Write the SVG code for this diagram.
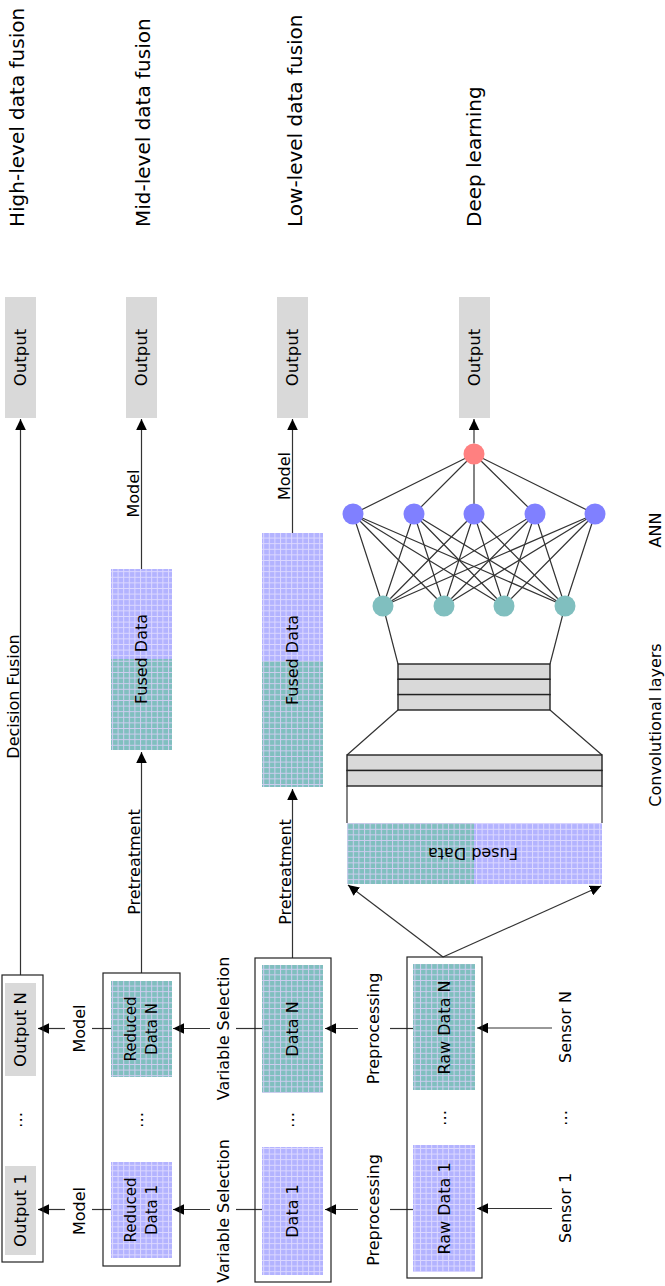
<svg xmlns="http://www.w3.org/2000/svg" width="665" height="1286" viewBox="0 0 665 1286">
  <style>
    text { font-family: "DejaVu Sans", "Liberation Sans", sans-serif; fill: #000; }
    .title { font-size: 20px; }
    .lbl { font-size: 16px; }
    .out { font-size: 16.5px; }
    .small { font-size: 15px; }
    .gray { fill: #d9d9d9; stroke: none; }
    .frame { fill: none; stroke: #222; stroke-width: 1.2; }
    .edge { fill: none; stroke: #333; stroke-width: 1.2; }
    .arrow { fill: none; stroke: #333; stroke-width: 1.2; marker-end: url(#tip); }
    .layer { fill: #d9d9d9; stroke: #222; stroke-width: 1.4; }
    .nP { fill: #8080ff; }
    .nT { fill: #80bfbf; }
    .nR { fill: #ff8080; }
  </style>
  <defs>
    <marker id="tip" markerUnits="userSpaceOnUse" markerWidth="11" markerHeight="11" viewBox="0 0 11 11" refX="11" refY="5.5" orient="auto">
      <path d="M11 5.5 L0 0.2 L0 10.8 Z" fill="#000"/>
    </marker>
    <pattern id="gridP" patternUnits="userSpaceOnUse" width="5.6" height="5.6">
      <rect width="5.6" height="5.6" fill="#b3b3ff"/>
      <path d="M0 0.5H5.6M0.5 0V5.6" stroke="#dcd8ff" stroke-width="1"/>
    </pattern>
    <pattern id="gridT" patternUnits="userSpaceOnUse" width="5.6" height="5.6">
      <rect width="5.6" height="5.6" fill="#80bfbf"/>
      <path d="M0 0.5H5.6M0.5 0V5.6" stroke="#cfcdf0" stroke-width="1"/>
    </pattern>
  </defs>

  <!-- column titles -->
  <g id="titles">
    <text class="title" transform="translate(17,227) rotate(-90)" dominant-baseline="central">High-level data fusion</text>
    <text class="title" transform="translate(143,227) rotate(-90)" dominant-baseline="central">Mid-level data fusion</text>
    <text class="title" transform="translate(295,227) rotate(-90)" dominant-baseline="central">Low-level data fusion</text>
    <text class="title" transform="translate(474,227) rotate(-90)" dominant-baseline="central">Deep learning</text>
  </g>

  <!-- connectors -->
  <g id="connectors">
    <!-- vertical flows -->
    <line class="arrow" x1="20.5" y1="975" x2="20.5" y2="419"/>
    <line class="arrow" x1="141.5" y1="569" x2="141.5" y2="419"/>
    <line class="arrow" x1="141.5" y1="973" x2="141.5" y2="752"/>
    <line class="arrow" x1="292.5" y1="533" x2="292.5" y2="419"/>
    <line class="arrow" x1="292.5" y1="958" x2="292.5" y2="789"/>
    <line class="arrow" x1="474" y1="443.5" x2="474" y2="419"/>
    <!-- horizontal flows, split around their labels -->
    <line class="edge" x1="111" y1="1028.5" x2="92" y2="1028.5"/>
    <line class="arrow" x1="65" y1="1028.5" x2="38" y2="1028.5"/>
    <line class="edge" x1="111" y1="1209.5" x2="92" y2="1209.5"/>
    <line class="arrow" x1="65" y1="1209.5" x2="38" y2="1209.5"/>
    <line class="edge" x1="262" y1="1028.5" x2="236" y2="1028.5"/>
    <line class="arrow" x1="210" y1="1028.5" x2="173" y2="1028.5"/>
    <line class="edge" x1="262" y1="1209.5" x2="236" y2="1209.5"/>
    <line class="arrow" x1="210" y1="1209.5" x2="173" y2="1209.5"/>
    <line class="edge" x1="413" y1="1028.5" x2="390" y2="1028.5"/>
    <line class="arrow" x1="358" y1="1028.5" x2="325" y2="1028.5"/>
    <line class="edge" x1="413" y1="1209.5" x2="390" y2="1209.5"/>
    <line class="arrow" x1="358" y1="1209.5" x2="325" y2="1209.5"/>
    <line class="arrow" x1="552" y1="1028" x2="477" y2="1028"/>
    <line class="arrow" x1="552" y1="1208.5" x2="477" y2="1208.5"/>
    <!-- raw data into the convolutional input -->
    <line class="arrow" x1="443" y1="957" x2="348" y2="885"/>
    <line class="arrow" x1="443" y1="957" x2="601" y2="886"/>
    <!-- convolutional funnel -->
    <path class="edge" d="M347 823V786M602 823V786"/>
    <path class="edge" d="M347 755L398 710M602 755L550 710"/>
    <path class="edge" d="M398 664L383 606M550 664L565 606"/>
    <!-- ANN: hidden to output -->
    <path class="edge" d="M353 514L474 454M414 514L474 454M474 514L474 454M535 514L474 454M595 514L474 454"/>
    <!-- ANN: input to hidden -->
    <path class="edge" d="M383 606L353 514M383 606L414 514M383 606L474 514M383 606L535 514M383 606L595 514"/>
    <path class="edge" d="M444 606L353 514M444 606L414 514M444 606L474 514M444 606L535 514M444 606L595 514"/>
    <path class="edge" d="M504 606L353 514M504 606L414 514M504 606L474 514M504 606L535 514M504 606L595 514"/>
    <path class="edge" d="M565 606L353 514M565 606L414 514M565 606L474 514M565 606L535 514M565 606L595 514"/>
  </g>

  <!-- connector labels -->
  <g id="edge-labels" class="lbl">
    <text transform="translate(13,696.5) rotate(-90)" text-anchor="middle" dominant-baseline="central">Decision Fusion</text>
    <text transform="translate(133,493.5) rotate(-90)" text-anchor="middle" dominant-baseline="central">Model</text>
    <text transform="translate(284.5,476) rotate(-90)" text-anchor="middle" dominant-baseline="central">Model</text>
    <text transform="translate(134,862) rotate(-90)" text-anchor="middle" dominant-baseline="central">Pretreatment</text>
    <text transform="translate(285,872) rotate(-90)" text-anchor="middle" dominant-baseline="central">Pretreatment</text>
    <text transform="translate(79,1028.5) rotate(-90)" text-anchor="middle" dominant-baseline="central">Model</text>
    <text transform="translate(79,1211) rotate(-90)" text-anchor="middle" dominant-baseline="central">Model</text>
    <text transform="translate(223,1028.5) rotate(-90)" text-anchor="middle" dominant-baseline="central">Variable Selection</text>
    <text transform="translate(223,1211) rotate(-90)" text-anchor="middle" dominant-baseline="central">Variable Selection</text>
    <text transform="translate(373,1028.5) rotate(-90)" text-anchor="middle" dominant-baseline="central">Preprocessing</text>
    <text transform="translate(373,1210) rotate(-90)" text-anchor="middle" dominant-baseline="central">Preprocessing</text>
  </g>

  <!-- high-level fusion -->
  <g id="hl-output">
    <rect class="gray" x="5" y="297" width="31" height="121"/>
    <text class="out" transform="translate(20.5,357.5) rotate(-90)" text-anchor="middle" dominant-baseline="central">Output</text>
  </g>
  <g id="hl-outputs">
    <rect class="frame" x="2" y="975" width="41" height="287"/>
    <rect class="gray" x="5" y="983" width="31" height="93"/>
    <text class="out" transform="translate(20.5,1029.5) rotate(-90)" text-anchor="middle" dominant-baseline="central">Output N</text>
    <text class="lbl" transform="translate(20.5,1120) rotate(-90)" text-anchor="middle" dominant-baseline="central">⋯</text>
    <rect class="gray" x="5" y="1166" width="31" height="89"/>
    <text class="out" transform="translate(20.5,1210.5) rotate(-90)" text-anchor="middle" dominant-baseline="central">Output 1</text>
  </g>

  <!-- mid-level fusion -->
  <g id="ml-output">
    <rect class="gray" x="126" y="297" width="31" height="121"/>
    <text class="out" transform="translate(141.5,357.5) rotate(-90)" text-anchor="middle" dominant-baseline="central">Output</text>
  </g>
  <g id="ml-fused">
    <rect x="111" y="569" width="61" height="90" fill="url(#gridP)"/>
    <rect x="111" y="659" width="61" height="91" fill="url(#gridT)"/>
    <text class="lbl" transform="translate(141.5,659) rotate(-90)" text-anchor="middle" dominant-baseline="central">Fused Data</text>
  </g>
  <g id="ml-reduced">
    <rect class="frame" x="103" y="973" width="77" height="293"/>
    <rect x="111" y="981" width="61" height="96" fill="url(#gridT)"/>
    <text class="small" transform="translate(130.5,1029) rotate(-90)" text-anchor="middle" dominant-baseline="central">Reduced</text>
    <text class="small" transform="translate(152,1029) rotate(-90)" text-anchor="middle" dominant-baseline="central">Data N</text>
    <text class="lbl" transform="translate(141.5,1120) rotate(-90)" text-anchor="middle" dominant-baseline="central">⋯</text>
    <rect x="111" y="1162" width="61" height="96" fill="url(#gridP)"/>
    <text class="small" transform="translate(130.5,1210) rotate(-90)" text-anchor="middle" dominant-baseline="central">Reduced</text>
    <text class="small" transform="translate(152,1210) rotate(-90)" text-anchor="middle" dominant-baseline="central">Data 1</text>
  </g>

  <!-- low-level fusion -->
  <g id="ll-output">
    <rect class="gray" x="277" y="297" width="31" height="121"/>
    <text class="out" transform="translate(292.5,357.5) rotate(-90)" text-anchor="middle" dominant-baseline="central">Output</text>
  </g>
  <g id="ll-fused">
    <rect x="262" y="533" width="61" height="128" fill="url(#gridP)"/>
    <rect x="262" y="661" width="61" height="126" fill="url(#gridT)"/>
    <text class="lbl" transform="translate(292.5,660) rotate(-90)" text-anchor="middle" dominant-baseline="central">Fused Data</text>
  </g>
  <g id="ll-data">
    <rect class="frame" x="255" y="958" width="76" height="324"/>
    <rect x="262" y="965" width="61" height="128" fill="url(#gridT)"/>
    <text class="lbl" transform="translate(292.5,1029) rotate(-90)" text-anchor="middle" dominant-baseline="central">Data N</text>
    <text class="lbl" transform="translate(292.5,1120) rotate(-90)" text-anchor="middle" dominant-baseline="central">⋯</text>
    <rect x="262" y="1147" width="61" height="128" fill="url(#gridP)"/>
    <text class="lbl" transform="translate(292.5,1211) rotate(-90)" text-anchor="middle" dominant-baseline="central">Data 1</text>
  </g>

  <!-- raw sensor data -->
  <g id="raw-data">
    <rect class="frame" x="407" y="957" width="75" height="321"/>
    <rect x="413" y="964" width="62" height="126" fill="url(#gridT)"/>
    <text class="lbl" transform="translate(444.5,1027.5) rotate(-90)" text-anchor="middle" dominant-baseline="central">Raw Data N</text>
    <text class="lbl" transform="translate(444.5,1118) rotate(-90)" text-anchor="middle" dominant-baseline="central">⋯</text>
    <rect x="413" y="1145" width="62" height="127" fill="url(#gridP)"/>
    <text class="lbl" transform="translate(444.5,1208.5) rotate(-90)" text-anchor="middle" dominant-baseline="central">Raw Data 1</text>
  </g>
  <g id="sensors" class="lbl">
    <text transform="translate(565,1027) rotate(-90)" text-anchor="middle" dominant-baseline="central">Sensor N</text>
    <text transform="translate(565,1118) rotate(-90)" text-anchor="middle" dominant-baseline="central">⋯</text>
    <text transform="translate(565,1208) rotate(-90)" text-anchor="middle" dominant-baseline="central">Sensor 1</text>
  </g>

  <!-- deep learning: convolutional part -->
  <g id="dl-input">
    <rect x="347" y="823" width="127" height="61" fill="url(#gridT)"/>
    <rect x="474" y="823" width="128" height="61" fill="url(#gridP)"/>
    <text class="lbl" transform="translate(473,853) rotate(180)" text-anchor="middle" dominant-baseline="central">Fused Data</text>
  </g>
  <g id="conv-wide">
    <rect class="layer" x="347" y="755" width="255" height="15.5"/>
    <rect class="layer" x="347" y="770.5" width="255" height="15.5"/>
  </g>
  <g id="conv-narrow">
    <rect class="layer" x="398" y="664" width="152" height="15.3"/>
    <rect class="layer" x="398" y="679.3" width="152" height="15.3"/>
    <rect class="layer" x="398" y="694.6" width="152" height="15.4"/>
  </g>

  <!-- deep learning: dense part -->
  <g id="ann-input">
    <circle class="nT" cx="383" cy="606" r="10.5"/>
    <circle class="nT" cx="444" cy="606" r="10.5"/>
    <circle class="nT" cx="504" cy="606" r="10.5"/>
    <circle class="nT" cx="565" cy="606" r="10.5"/>
  </g>
  <g id="ann-hidden">
    <circle class="nP" cx="353" cy="514" r="10.5"/>
    <circle class="nP" cx="414" cy="514" r="10.5"/>
    <circle class="nP" cx="474" cy="514" r="10.5"/>
    <circle class="nP" cx="535" cy="514" r="10.5"/>
    <circle class="nP" cx="595" cy="514" r="10.5"/>
  </g>
  <g id="ann-output">
    <circle class="nR" cx="474" cy="454" r="10.5"/>
  </g>
  <g id="dl-output">
    <rect class="gray" x="459" y="297" width="31" height="121"/>
    <text class="out" transform="translate(474.5,357.5) rotate(-90)" text-anchor="middle" dominant-baseline="central">Output</text>
  </g>

  <g id="section-labels" class="lbl">
    <text transform="translate(655,530) rotate(-90)" text-anchor="middle" dominant-baseline="central">ANN</text>
    <text transform="translate(655,725) rotate(-90)" text-anchor="middle" dominant-baseline="central">Convolutional layers</text>
  </g>
</svg>
